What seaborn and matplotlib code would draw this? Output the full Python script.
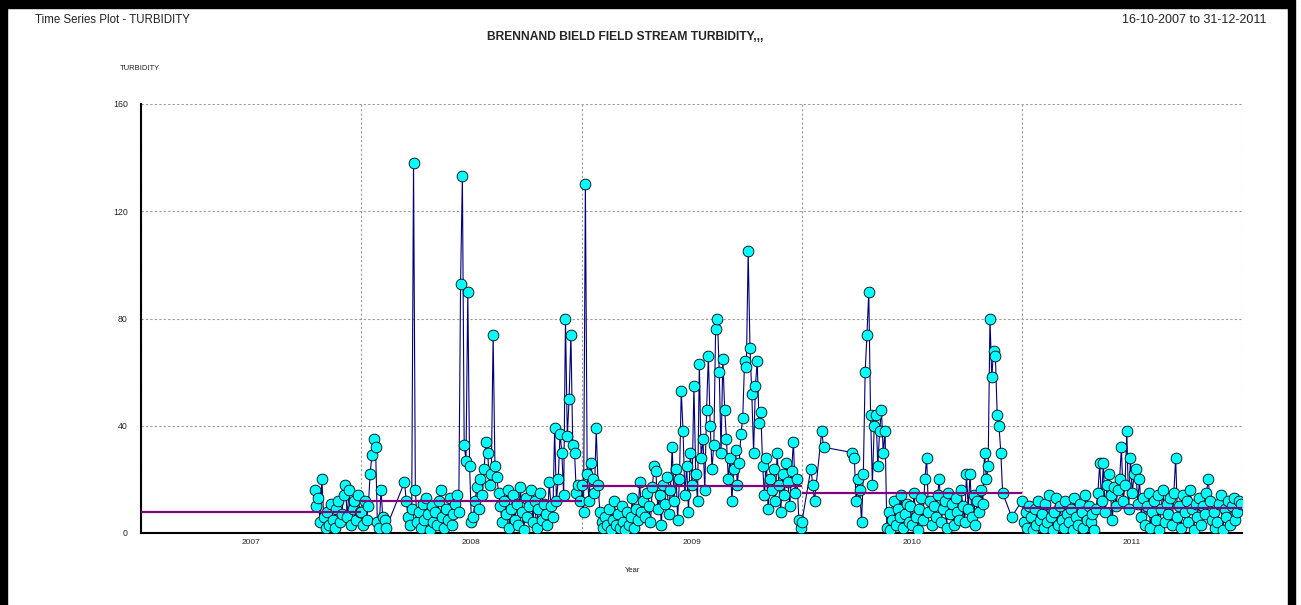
import pandas as pd
import matplotlib
matplotlib.use('Agg')
import matplotlib.pyplot as plt
import matplotlib.dates as mdates
from matplotlib.patches import Rectangle
import seaborn as sns

# turbidity readings, one slot every 3 days from the start date (None = no sample)
start_2007 = '2007-10-16'
turb_2007 = [16, 10, 13, 4, 20, 6, 2, 8, 3, 11, 5, 2, 9, 12, 4, 7, 14, 18, 6, 16,
             3, 9, 12, 5, 14, 8]

turb_2008 = [8, 3, 12, 5, 10, 22, 29, 35, 32, 4, 2, 16,
             6, 5, 2, None, None, None, None, None, None, None, None, None, 19,
             12, 6, 3, 9, 138, 16, 4, 8, 2, 11, 5, 13, 7, 1, 10, 4, 8, 3, 12, 16,
             6, 2, 9, 5, 13, 3, 7, 11,
             14, 8, 93, 133, 33, 27, 90, 25, 4,
             6, 12, 17, 9, 20, 14, 24, 34, 30, 18, 22, 74, 25, 21, 15, 10,
             4, 12, 7, 16, 2, 9, 14, 5, 11, 3, 17, 8, 1, 13, 6, 10, 16, 4, 12, 2,
             9, 15, 5, 11, 7, 3,
             19, 10, 6, 39, 12, 20, 37, 30, 14, 80, 36, 50, 74, 33, 30, 15, 18, 12]

turb_2009 = [18, 8, 130, 22, 12, 26, 20, 15, 39, 18, 8,
             4, 2, 6, 3, 9, 1, 5, 12, 3, 7, 2, 10, 4, 1, 8, 3, 6, 13, 2, 9, 5,
             19, 8, 12, 6, 15, 10, 4, 17, 25, 23, 9, 14, 3, 18, 11, 21, 7, 16, 32, 12,
             24, 5, 20,
             53, 38, 14, 25, 8, 30, 18, 55, 22, 12, 63, 28, 35, 16, 46, 66, 40, 24, 33,
             76, 80, 60, 30, 65, 46, 35, 20, 28, 12, 24, 31, 18, 26, 37, 43, 64, 62, 105,
             69, 52, 30, 55, 64, 41, 45,
             25, 14, 28, 9, 20, 16, 24, 12, 30, 18, 8, 22, 14, 26, 19, 10, 23, 34, 15, 20,
             5, 2]

turb_2010 = [4, None, None, None, None, 24, 18, 12, None, None, None, 38, 32,
             None, None, None, None, None, None, None, None, None, None, None, None,
             None, None, None,
             30, 28, 12, 20, 16, 4, 22, 60, 74, 90, 44, 18, 40, 44, 25, 38, 46, 30, 38,
             2, 8, 1, 5, 12, 3, 9, 6, 14, 2, 7, 11, 4, 10, 3, 15, 6, 1, 9, 13,
             5, 20, 28, 8, 12, 3, 10, 6, 14, 20, 4, 9, 12, 2, 15, 7, 11, 3, 13, 8,
             5, 16, 10, 4, 22, 9, 22, 6, 14, 3, 12, 8, 16, 11,
             30, 20, 25, 80, 58, 68, 66, 44, 40, 30, 15,
             None, None, None, None, 6, None, None, None, None, None]

turb_2011 = [12, 4, 8, 2, 10, 6, 1, 9, 3, 12, 5, 7, 2, 11, 4, 14, 6, 1, 8, 13,
             3, 10, 5, 2, 12, 7, 4, 9, 1, 13, 6, 3, 11, 8, 2, 14, 5, 10, 4, 7, 1, 9, 15,
             26, 12, 26, 8, 18, 22, 14, 5, 17, 10, 16, 20, 32, 12, 18, 38, 9, 28, 15, 22,
             24, 11, 20,
             6, 13, 3, 10, 15, 2, 8, 12, 5, 14, 1, 9, 16, 4, 11, 7, 13, 3, 15, 28,
             6, 10, 2, 14, 8, 12, 4, 16, 9, 1, 11, 6, 13, 3, 10, 7, 15, 20, 12, 5,
             8, 2, 4, 11, 14, 1, 9, 6, 12, 3, 10, 13, 5, 8, 12, 11]

years = [2007, 2008, 2009, 2010, 2011]
annual_mean = [7.9, 12.0, 17.6, 15.0, 9.4]


def to_frame(start, values):
    dates = pd.date_range(start, periods=len(values), freq='3D')
    return pd.DataFrame({'date': dates, 'turbidity': values}).dropna()


turb = pd.concat([
    to_frame(start_2007, turb_2007),
    to_frame('2008-01-01', turb_2008),
    to_frame('2009-01-01', turb_2009),
    to_frame('2010-01-01', turb_2010),
    to_frame('2011-01-01', turb_2011),
], ignore_index=True)

sns.set_style('white')
plt.rcParams['font.family'] = ['Liberation Sans', 'DejaVu Sans']

fig = plt.figure(figsize=(13.01, 6.05), dpi=100)
ax = fig.add_axes([141 / 1301, 72 / 605, 1101 / 1301, 429 / 605])

sns.lineplot(data=turb, x='date', y='turbidity', color='#000080', lw=0.8,
             estimator=None, ax=ax, zorder=2)
sns.scatterplot(data=turb, x='date', y='turbidity', color='#00ffff',
                edgecolor='black', linewidth=0.6, s=60, ax=ax, zorder=3)

# annual mean lines
for yr, m in zip(years, annual_mean):
    ax.hlines(m, mdates.date2num(pd.Timestamp(f'{yr}-01-01')),
              mdates.date2num(pd.Timestamp(f'{yr + 1}-01-01')),
              color='#800080', lw=1.6, zorder=4)

ax.set_xlim(pd.Timestamp('2007-01-01'), pd.Timestamp('2012-01-01'))
ax.set_ylim(0, 160)
ax.set_yticks([0, 40, 80, 120, 160])
ax.xaxis.set_major_locator(mdates.YearLocator())
ax.xaxis.set_major_formatter(plt.NullFormatter())
ax.xaxis.set_minor_locator(mdates.MonthLocator(bymonth=7, bymonthday=2))
ax.xaxis.set_minor_formatter(mdates.DateFormatter('%Y'))
ax.tick_params(axis='x', which='minor', length=0, labelsize=6, pad=4)
ax.tick_params(axis='x', which='major', length=3, width=1, color='black')
ax.tick_params(axis='y', length=4.5, width=1, color='black', labelsize=6.3, pad=5)
ax.set_axisbelow(True)
ax.grid(True, which='major', color='#999999', ls=(0, (2, 2)), lw=0.8)
ax.set_xlabel('')
ax.set_ylabel('')
for side in ['top', 'right']:
    ax.spines[side].set_visible(False)
for side in ['left', 'bottom']:
    ax.spines[side].set_color('black')
    ax.spines[side].set_linewidth(1.5)

fig.text(35 / 1301, 1 - 20 / 605, 'Time Series Plot - TURBIDITY', fontsize=8.3,
         ha='left', va='center', color='#222222')
fig.text(1267 / 1301, 1 - 20 / 605, '16-10-2007 to 31-12-2011', fontsize=9,
         ha='right', va='center', color='#222222')
fig.text(625 / 1301, 1 - 37 / 605, 'BRENNAND BIELD FIELD STREAM TURBIDITY,,,',
         fontsize=8.7, fontweight='bold', ha='center', va='center')
fig.text(140 / 1301, 1 - 68 / 605, 'TURBIDITY', fontsize=5.5, ha='center', va='center')
fig.text(633 / 1301, 1 - 570 / 605, 'Year', fontsize=5.5, ha='center', va='center')

# black frame round the page
fig.add_artist(Rectangle((0, 1 - 8 / 605), 1294 / 1301, 8 / 605,
                         transform=fig.transFigure, color='black'))
fig.add_artist(Rectangle((0, 0), 7 / 1301, 1, transform=fig.transFigure, color='black'))
fig.add_artist(Rectangle((1288 / 1301, 0), 7 / 1301, 1,
                         transform=fig.transFigure, color='black'))

fig.savefig('out.png', dpi=100)
